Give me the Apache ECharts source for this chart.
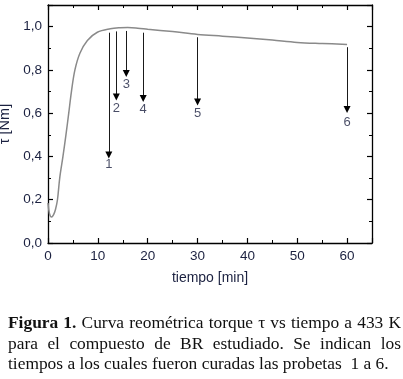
<!DOCTYPE html>
<html>
<head>
<meta charset="utf-8">
<script src="https://cdn.jsdelivr.net/npm/echarts@6/dist/echarts.min.js"></script>
<style>
  html, body { margin: 0; padding: 0; background: #fff; }
  #wrap { position: relative; width: 403px; height: 379px; overflow: hidden; }
  #chart { position: absolute; left: 0; top: 0; width: 403px; height: 379px; }
  #caption {
    position: absolute; left: 8px; top: 312px; width: 393px;
    font-family: 'Liberation Serif', 'DejaVu Serif', serif;
    font-size: 17.4px; line-height: 20.5px; color: #111;
  }
  #caption span { display: block; white-space: nowrap; }
  #caption span.j { text-align: justify; text-align-last: justify; }
</style>
</head>
<body>
<div id="wrap">
  <div id="chart"></div>
  <div id="caption">
    <span class="j"><b>Figura 1.</b> Curva reométrica torque τ vs tiempo a 433 K</span>
    <span class="j">para el compuesto de BR estudiado. Se indican los</span>
    <span>tiempos a los cuales fueron curadas las probetas&nbsp; 1 a 6.</span>
  </div>
</div>
<script>
// ── Data ────────────────────────────────────────────────────────────────
const timeMin = [0, 0.3, 0.7, 1.1, 1.5, 1.9, 2.35, 3.0, 3.6, 4.16, 4.7, 5.4, 6.4, 7.9, 9.9,
                 12.5, 14.5, 16, 18, 20, 25, 30, 35, 40, 45, 50, 55, 60];
const torque  = [0.185, 0.135, 0.12, 0.13, 0.155, 0.2, 0.3, 0.4, 0.5, 0.6, 0.7, 0.8, 0.877, 0.936, 0.974,
                 0.99, 0.995, 0.996, 0.993, 0.988, 0.977, 0.964, 0.956, 0.948, 0.938, 0.927, 0.922, 0.918];

// probetas 1..6: time, arrow start (under curve), arrow tip, label position
const probeNames  = ['1', '2', '3', '4', '5', '6'];
const probeTime   = [12.2, 13.7, 15.7, 19.1, 30, 60];
const arrowTop    = [0.972, 0.978, 0.98, 0.972, 0.951, 0.905];
const arrowTip    = [0.407, 0.675, 0.783, 0.668, 0.652, 0.617];
const labelY      = [0.361, 0.624, 0.732, 0.617, 0.601, 0.555];

// ── Style ───────────────────────────────────────────────────────────────
const font = "'Liberation Sans', Arial, sans-serif";
const ink = '#000';
const labelInk = '#1b2140';

const chart = echarts.init(document.getElementById('chart'), null, { renderer: 'canvas' });

const commonX = {
  type: 'value', min: 0, max: 65, interval: 10,
  axisLine: { show: true, onZero: false, lineStyle: { color: ink, width: 1.3 } },
  axisTick: { show: true, inside: true, length: 5, lineStyle: { color: ink, width: 1.2 } },
  minorTick: { show: true, splitNumber: 2, length: 3, lineStyle: { color: ink, width: 1 } },
  splitLine: { show: false }
};
const commonY = {
  type: 'value', min: 0, max: 1.1, interval: 0.2,
  axisLine: { show: true, onZero: false, lineStyle: { color: ink, width: 1.3 } },
  axisTick: { show: true, inside: true, length: 5, lineStyle: { color: ink, width: 1.2 } },
  minorTick: { show: true, splitNumber: 2, length: 3, lineStyle: { color: ink, width: 1 } },
  splitLine: { show: false }
};

chart.setOption({
  animation: false,
  grid: { left: 48, right: 31, top: 5, bottom: 136, containLabel: false, outerBoundsMode: 'none' },
  xAxis: [
    Object.assign({}, commonX, {
      position: 'bottom',
      name: 'tiempo [min]', nameLocation: 'middle', nameGap: 28,
      nameTextStyle: { fontFamily: font, fontSize: 14, color: labelInk },
      axisLabel: { show: true, showMaxLabel: false, margin: 6, fontFamily: font, fontSize: 13.5, color: labelInk,
        formatter: v => (v % 10 === 0 ? String(v) : '') }
    }),
    Object.assign({}, commonX, { position: 'top', axisLabel: { show: false } })
  ],
  yAxis: [
    Object.assign({}, commonY, {
      position: 'left',
      name: 'τ [Nm]', nameLocation: 'middle', nameGap: 25,
      nameTextStyle: { fontFamily: font, fontSize: 14.5, color: labelInk },
      axisLabel: { show: true, showMaxLabel: false, margin: 6, fontFamily: font, fontSize: 13.5, color: labelInk,
        formatter: v => v.toFixed(1).replace('.', ',') }
    }),
    Object.assign({}, commonY, { position: 'right', axisLabel: { show: false } })
  ],
  series: [
    {
      type: 'line',
      data: timeMin.map((t, i) => [t, torque[i]]),
      smooth: 0.35,
      showSymbol: false,
      lineStyle: { color: '#8a8a8a', width: 1.5 }
    },
    {
      type: 'lines',
      coordinateSystem: 'cartesian2d',
      symbol: ['none', 'path://M1.5,0 L3,7 L0,7 Z'],
      symbolSize: [0, 7],
      lineStyle: { color: ink, width: 0.9, opacity: 1 },
      data: probeTime.map((t, i) => ({ coords: [[t, arrowTop[i]], [t, arrowTip[i]]] }))
    },
    {
      type: 'scatter',
      symbolSize: 0,
      data: probeTime.map((t, i) => ({ value: [t, labelY[i]], name: probeNames[i] })),
      label: {
        show: true, position: 'inside', formatter: p => p.name,
        fontFamily: font, fontSize: 13, color: labelInk
      }
    }
  ]
});
</script>
</body>
</html>
